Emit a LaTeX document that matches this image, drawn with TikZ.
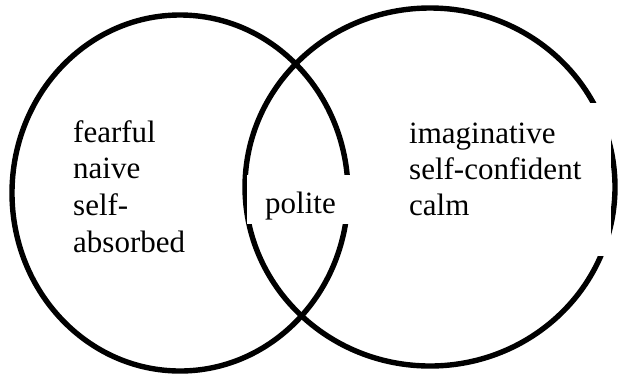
\documentclass[tikz,border=0pt]{standalone}
\usepackage{fontspec}
\setmainfont{Liberation Serif}
\usetikzlibrary{shapes.geometric}
\begin{document}
\begin{tikzpicture}[x=1pt,y=-1pt,
  ring/.style={draw=black, line width=5.4pt, ellipse, inner sep=0pt, outer sep=0pt},
  cover/.style={fill=white, draw=none, inner sep=0pt, outer sep=0pt, anchor=north west},
  word/.style={anchor=base west, inner sep=0pt, font=\fontsize{31}{37}\selectfont}]
\useasboundingbox[fill=white] (0,0) rectangle (618,376);
\node[ring, minimum width=336pt, minimum height=356pt] (leftring) at (180,193) {};
\node[ring, minimum width=370pt, minimum height=358pt] (rightring) at (430,187) {};
% white text boxes covering parts of the rings
\node[cover, minimum width=105pt, minimum height=49pt] (politebox) at (247,175) {};
\node[cover, minimum width=211pt, minimum height=153pt] (rightbox) at (400,103) {};
% left set
\node[word] (l1) at (73,142) {fearful};
\node[word] (l2) at (73,178.5) {naive};
\node[word] (l3) at (73,215.5) {self-};
\node[word] (l4) at (73,252) {absorbed};
% intersection
\node[word] (mid) at (265,213) {polite};
% right set
\node[word] (r1) at (409,143) {imaginative};
\node[word] (r2) at (409,179) {self-confident};
\node[word] (r3) at (409,215) {calm};
\end{tikzpicture}
\end{document}
